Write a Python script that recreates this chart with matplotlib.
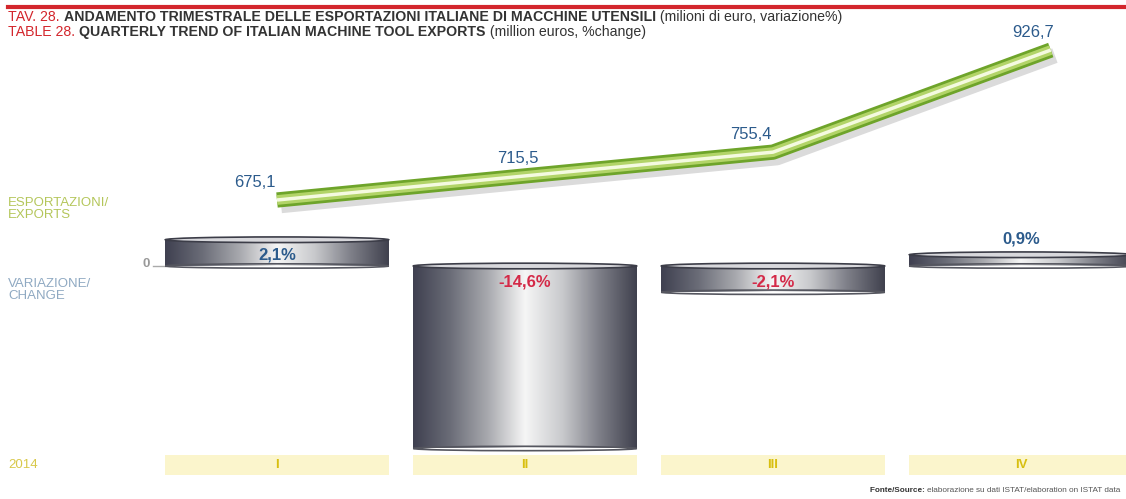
import numpy as np
import matplotlib.pyplot as plt
from matplotlib.patches import Rectangle, Ellipse
from matplotlib.colors import LinearSegmentedColormap
import matplotlib.patheffects as pe

# quarterly export values (million euro) and % change
quarters = ["I", "II", "III", "IV"]
year_label = "2014"
exports = [675.1, 715.5, 755.4, 926.7]
export_labels = ["675,1", "715,5", "755,4", "926,7"]
change = [2.1, -14.6, -2.1, 0.9]
change_labels = ["2,1%", "-14,6%", "-2,1%", "0,9%"]
line_pos = [0, 1, 2, 3.12]

W, H = 1126, 499
plt.rcParams["font.family"] = ["Liberation Sans", "DejaVu Sans"]

fig = plt.figure(figsize=(W / 100, H / 100), dpi=100)
fig.patch.set_facecolor("white")
renderer = fig.canvas.get_renderer()

# main axes: x = quarter index, y = % change
XLIM = (-277 / 248, (W - 277) / 248)
ax = fig.add_axes([0, 0, 1, 1])
ax.axis("off")

# second axes for the exports line
lx = ax.twinx()
lx.set_ylim(675.1 - 299 / 0.596, 675.1 + 200 / 0.596)
lx.axis("off")


def fx(x):
    return x / W


def fy(y):
    return 1 - y / H


# top red rule
fig.add_artist(plt.Line2D([fx(8), 1], [fy(7), fy(7)], color="#d3262c", lw=3.0))


def pieces(x, y, parts, size, right=None):
    """Draw a run of differently styled texts; shrink to end at `right` px."""
    def draw(sz):
        cx = fx(x)
        arts = []
        for txt, col, wt in parts:
            t = fig.text(cx, fy(y), txt, color=col, fontsize=sz, fontweight=wt,
                         va="center", ha="left")
            arts.append(t)
            cx += t.get_window_extent(renderer=renderer).width / W
        return arts, cx * W

    arts, end = draw(size)
    if right is not None and end > right:
        for a in arts:
            a.remove()
        new = size * (right - x) / (end - x)
        arts, end = draw(new)
        return new
    return size


tsize = pieces(8, 17, [("TAV. 28. ", "#d3262c", "normal"),
                       ("ANDAMENTO TRIMESTRALE DELLE ESPORTAZIONI ITALIANE DI MACCHINE UTENSILI", "#333333", "bold"),
                       (" (milioni di euro, variazione%)", "#333333", "normal")],
               11, right=838)
pieces(8, 32, [("TABLE 28. ", "#d3262c", "normal"),
               ("QUARTERLY TREND OF ITALIAN MACHINE TOOL EXPORTS", "#333333", "bold"),
               (" (million euros, %change)", "#333333", "normal")], tsize)

# side labels
fig.text(fx(8), fy(209), "ESPORTAZIONI/\nEXPORTS", color="#b4c65a", fontsize=9.5,
         va="center", ha="left", linespacing=0.95)
fig.text(fx(8), fy(290), "VARIAZIONE/\nCHANGE", color="#8fa9c2", fontsize=9.5,
         va="center", ha="left", linespacing=0.95)
fig.text(fx(8), fy(465), year_label, color="#d8c84a", fontsize=9.5, va="center", ha="left")
fig.text(fx(150), fy(264), "0", color="#999999", fontsize=9.5, fontweight="bold",
         va="center", ha="right")
ax.plot([-0.5, -0.45], [0, 0], color="#aaaaaa", lw=1)

# metallic cylinder bars
metal = LinearSegmentedColormap.from_list(
    "metal", ["#3f4050", "#6b6d78", "#a8a9ae", "#f6f6f6", "#c9cacd", "#7e7f88", "#40414e"])
grad = np.linspace(0, 1, 256)[None, :]
bw = 0.45
for i, v in enumerate(change):
    y0, y1 = min(0, v), max(0, v)
    ax.imshow(grad, extent=(i - bw, i + bw, y0, y1), cmap=metal, aspect="auto",
              zorder=2, interpolation="bilinear")
    ax.add_patch(Ellipse((i, y1), 2 * bw, 0.45, facecolor="#d8d8dc",
                         edgecolor="#3c3d48", lw=1.2, zorder=3))
    ax.add_patch(Ellipse((i, y0), 2 * bw, 0.35, facecolor="none",
                         edgecolor="#55565f", lw=1.2, zorder=3))

ax.set_xlim(*XLIM)
ax.set_ylim(-(H - 266) / 12.5, 266 / 12.5)

# % change labels
for i, (v, lab) in enumerate(zip(change, change_labels)):
    col = "#2c5b8c" if v >= 0 else "#d42a48"
    if 0 <= v < 1.5:
        yy = v + 1.3
    elif v >= 0:
        yy = v - 1.2
    else:
        yy = -1.3
    ax.text(i, yy, lab, color=col, fontsize=12, fontweight="bold",
            ha="center", va="center", zorder=5)

# quarter bands
for i, q in enumerate(quarters):
    ax.add_patch(Rectangle((i - bw, -16.7), 2 * bw, 1.6, facecolor="#fbf5cc",
                           edgecolor="none", zorder=1))
    ax.text(i, -15.9, q, color="#d8bf10", fontsize=9.5, fontweight="bold",
            ha="center", va="center", zorder=2)

# exports line drawn as a green tube
shadow = [pe.SimpleLineShadow(offset=(3, -4), shadow_color="#888888", alpha=0.3)]
lx.plot(line_pos, exports, color="#6ea42a", lw=11, solid_joinstyle="round",
        solid_capstyle="butt", path_effects=shadow + [pe.Normal()], zorder=4)
lx.plot(line_pos, exports, color="#b2d468", lw=7, solid_joinstyle="round",
        solid_capstyle="butt", zorder=5)
lx.plot(line_pos, exports, color="#f4fae0", lw=2.5, solid_joinstyle="round",
        solid_capstyle="butt", zorder=6)
lx.set_xlim(*XLIM)

lab_dx = [-0.09, -0.03, -0.09, -0.07]
for x, v, lab, dx in zip(line_pos, exports, export_labels, lab_dx):
    lx.text(x + dx, v + 30, lab, color="#2c5b8c", fontsize=12, ha="center",
            va="center", zorder=7)

# source note
pieces(870, 491, [("Fonte/Source: ", "#333333", "bold"),
                  ("elaborazione su dati ISTAT/elaboration on ISTAT data", "#555555", "normal")],
       6, right=1122)

fig.savefig("out.png", dpi=100, facecolor="white")
